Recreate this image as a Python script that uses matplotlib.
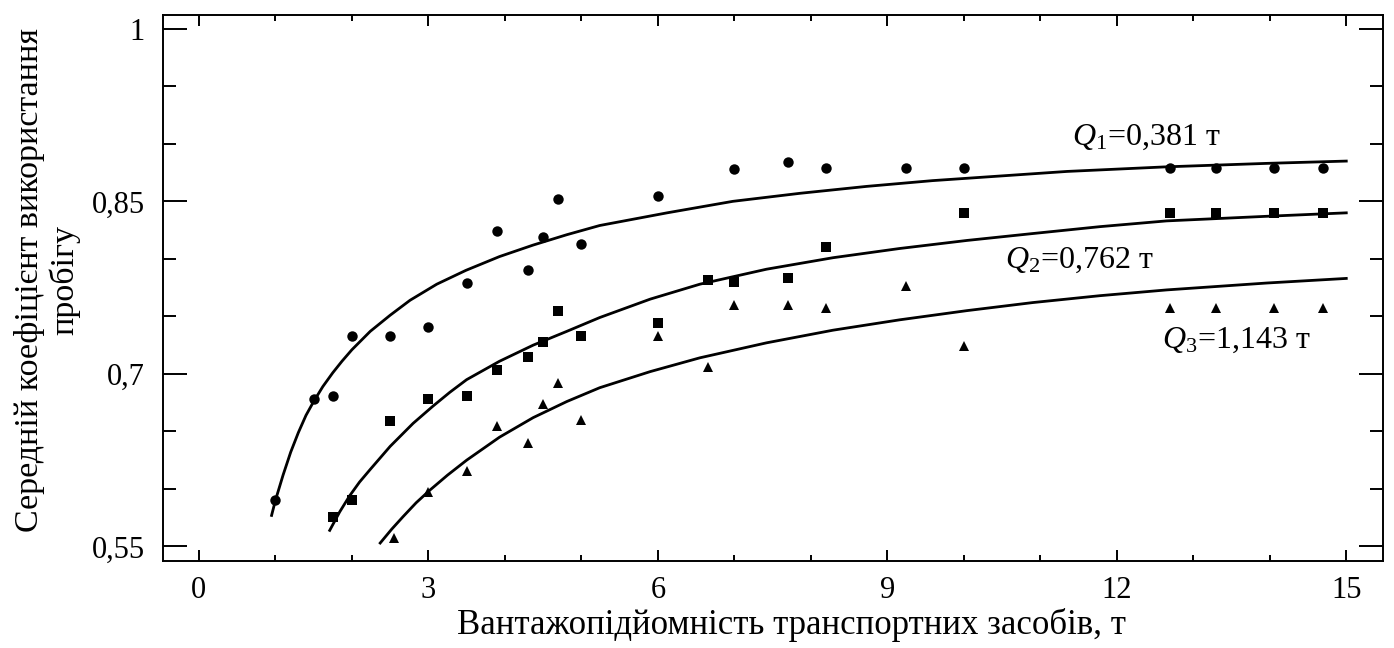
import matplotlib.pyplot as plt
from matplotlib.ticker import MultipleLocator, FixedLocator

plt.rcParams['font.family'] = ['Liberation Serif', 'DejaVu Serif']
plt.rcParams['mathtext.fontset'] = 'custom'
plt.rcParams['mathtext.rm'] = 'Liberation Serif'
plt.rcParams['mathtext.it'] = 'Liberation Serif:italic'

# measured points, Q1 = 0,381 t
x_q1 = [1.0, 1.5, 1.75, 2.0, 2.5, 3.0, 3.5, 3.9, 4.3, 4.5, 4.7, 5.0, 6.0,
        7.0, 7.7, 8.2, 9.25, 10.0, 12.7, 13.3, 14.05, 14.7]
y_q1 = [0.590, 0.678, 0.681, 0.733, 0.733, 0.741, 0.779, 0.824, 0.790, 0.819,
        0.852, 0.813, 0.855, 0.878, 0.884, 0.879, 0.879, 0.879, 0.879, 0.879,
        0.879, 0.879]

# measured points, Q2 = 0,762 t
x_q2 = [1.75, 2.0, 2.5, 3.0, 3.5, 3.9, 4.3, 4.5, 4.7, 5.0, 6.0, 6.65, 7.0,
        7.7, 8.2, 10.0, 12.7, 13.3, 14.05, 14.7]
y_q2 = [0.576, 0.590, 0.659, 0.678, 0.681, 0.703, 0.715, 0.728, 0.755, 0.733,
        0.744, 0.782, 0.780, 0.783, 0.810, 0.840, 0.840, 0.840, 0.840, 0.840]

# measured points, Q3 = 1,143 t
x_q3 = [2.55, 3.0, 3.5, 3.9, 4.3, 4.5, 4.7, 5.0, 6.0, 6.65, 7.0, 7.7, 8.2,
        9.25, 10.0, 12.7, 13.3, 14.05, 14.7]
y_q3 = [0.557, 0.597, 0.616, 0.655, 0.640, 0.674, 0.692, 0.660, 0.733, 0.706,
        0.760, 0.760, 0.757, 0.776, 0.724, 0.757, 0.757, 0.757, 0.757]

# approximating curves
cx_q1 = [0.95, 1.0, 1.1, 1.2, 1.3, 1.4, 1.5, 1.62, 1.75, 1.87, 2.0, 2.24,
         2.50, 2.76, 3.11, 3.49, 3.93, 4.37, 4.81, 5.24, 6.12, 6.98, 7.86,
         8.73, 9.59, 10.47, 11.35, 12.65, 13.96, 15.0]
cy_q1 = [0.577, 0.590, 0.612, 0.632, 0.649, 0.664, 0.676, 0.689, 0.701,
         0.711, 0.721, 0.737, 0.751, 0.764, 0.778, 0.790, 0.802, 0.812,
         0.821, 0.829, 0.840, 0.850, 0.857, 0.863, 0.868, 0.872, 0.876,
         0.880, 0.883, 0.885]

cx_q2 = [1.71, 1.84, 1.97, 2.1, 2.24, 2.37, 2.50, 2.65, 2.80, 3.06, 3.28,
         3.50, 3.93, 4.37, 4.81, 5.24, 5.90, 6.55, 7.42, 8.29, 9.16, 10.04,
         10.90, 11.78, 12.65, 13.96, 15.0]
cy_q2 = [0.564, 0.580, 0.594, 0.606, 0.617, 0.627, 0.637, 0.647, 0.657,
         0.672, 0.684, 0.695, 0.711, 0.725, 0.737, 0.749, 0.765, 0.778,
         0.791, 0.801, 0.809, 0.816, 0.822, 0.828, 0.833, 0.837, 0.840]

cx_q3 = [2.37, 2.52, 2.67, 2.84, 3.02, 3.25, 3.50, 3.93, 4.37, 4.81, 5.24,
         5.90, 6.55, 7.42, 8.29, 9.16, 10.04, 10.90, 11.78, 12.65, 13.96,
         15.0]
cy_q3 = [0.553, 0.565, 0.576, 0.588, 0.599, 0.612, 0.625, 0.645, 0.662,
         0.676, 0.688, 0.702, 0.714, 0.727, 0.738, 0.747, 0.755, 0.762,
         0.768, 0.773, 0.779, 0.783]

labels = [r'$Q_{1}$=0,381 т', r'$Q_{2}$=0,762 т', r'$Q_{3}$=1,143 т']
label_pos = [(11.41, 0.899), (10.54, 0.792), (12.59, 0.723)]

fig = plt.figure(figsize=(13.94, 6.48), dpi=100)
ax = fig.add_axes([0.1169, 0.1343, 0.8752, 0.8426])

for cx, cy in [(cx_q1, cy_q1), (cx_q2, cy_q2), (cx_q3, cy_q3)]:
    ax.plot(cx, cy, color='black', lw=2.0, solid_joinstyle='round')

ax.plot(x_q1, y_q1, 'o', color='black', ms=7.5, mew=0)
ax.plot(x_q2, y_q2, 's', color='black', ms=7, mew=0)
ax.plot(x_q3, y_q3, '^', color='black', ms=7.5, mew=0)

for txt, (tx, ty) in zip(labels, label_pos):
    ax.text(tx, ty, txt, fontsize=23, ha='left', va='baseline')

ax.set_xlim(-0.47, 15.48)
ax.set_ylim(0.5374, 1.012)

ax.xaxis.set_major_locator(FixedLocator([0, 3, 6, 9, 12, 15]))
ax.xaxis.set_minor_locator(MultipleLocator(1))
ax.yaxis.set_major_locator(FixedLocator([0.55, 0.7, 0.85, 1.0]))
ax.yaxis.set_minor_locator(MultipleLocator(0.05))
ax.set_xticklabels(['0', '3', '6', '9', '12', '15'])
ax.set_yticklabels(['0,55', '0,7', '0,85', '1'])

ax.tick_params(which='both', direction='in', top=True, right=True,
               width=1.4, labelsize=22, colors='black')
ax.tick_params(axis='x', which='major', length=8, pad=11)
ax.tick_params(axis='x', which='minor', length=4.5)
ax.tick_params(axis='y', which='major', length=17, pad=13)
ax.tick_params(axis='y', which='minor', length=9.5)
for sp in ax.spines.values():
    sp.set_linewidth(1.4)

ax.set_xlabel('Вантажопідйомність транспортних засобів, т', fontsize=25)
ax.set_ylabel('Середній коефіцієнт використання\nпробігу', fontsize=24.5,
              linespacing=1.15)
ax.xaxis.set_label_coords(0.515, -0.086)
ax.yaxis.set_label_coords(-0.068, 0.515)

fig.savefig('out.png', dpi=100)
